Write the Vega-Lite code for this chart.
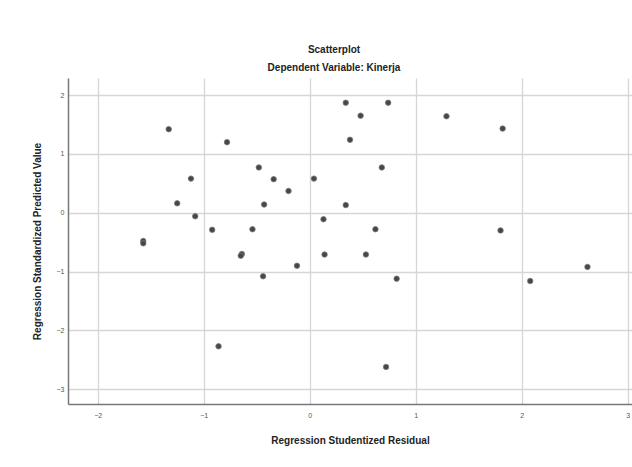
{
  "$schema": "https://vega.github.io/schema/vega-lite/v6.json",
  "autosize": {"type": "none"},
  "padding": {"left": 68, "top": 78, "right": 0, "bottom": 63},
  "width": 564,
  "height": 326,
  "background": "white",
  "title": {
    "text": "Scatterplot",
    "subtitle": "Dependent Variable: Kinerja",
    "anchor": "middle",
    "dx": -16,
    "fontSize": 10,
    "fontWeight": "bold",
    "font": "Liberation Sans",
    "color": "#222222",
    "subtitleFont": "Liberation Sans",
    "subtitleFontSize": 10,
    "subtitleFontWeight": "bold",
    "subtitleColor": "#222222",
    "subtitlePadding": 8,
    "offset": 5
  },
  "data": {
    "values": [
      {"residual": -1.33, "predicted": 1.42},
      {"residual": -0.78, "predicted": 1.20},
      {"residual": 0.34, "predicted": 1.87},
      {"residual": 0.74, "predicted": 1.87},
      {"residual": 0.48, "predicted": 1.65},
      {"residual": 1.29, "predicted": 1.64},
      {"residual": 1.82, "predicted": 1.43},
      {"residual": 0.38, "predicted": 1.24},
      {"residual": -0.48, "predicted": 0.77},
      {"residual": 0.68, "predicted": 0.77},
      {"residual": -1.12, "predicted": 0.58},
      {"residual": -0.34, "predicted": 0.57},
      {"residual": 0.04, "predicted": 0.58},
      {"residual": -0.20, "predicted": 0.37},
      {"residual": -1.25, "predicted": 0.16},
      {"residual": -0.43, "predicted": 0.14},
      {"residual": 0.34, "predicted": 0.13},
      {"residual": -1.08, "predicted": -0.06},
      {"residual": 0.13, "predicted": -0.11},
      {"residual": -0.92, "predicted": -0.29},
      {"residual": -0.54, "predicted": -0.28},
      {"residual": 0.62, "predicted": -0.28},
      {"residual": 1.80, "predicted": -0.30},
      {"residual": -1.57, "predicted": -0.48},
      {"residual": -1.57, "predicted": -0.52},
      {"residual": -0.64, "predicted": -0.70},
      {"residual": -0.65, "predicted": -0.73},
      {"residual": 0.14, "predicted": -0.71},
      {"residual": 0.53, "predicted": -0.71},
      {"residual": -0.12, "predicted": -0.90},
      {"residual": 2.62, "predicted": -0.92},
      {"residual": -0.44, "predicted": -1.08},
      {"residual": 0.82, "predicted": -1.12},
      {"residual": 2.08, "predicted": -1.16},
      {"residual": -0.86, "predicted": -2.27},
      {"residual": 0.72, "predicted": -2.62}
    ]
  },
  "mark": {"type": "point", "filled": true, "shape": "circle", "size": 30, "color": "#474747", "opacity": 1, "stroke": "#7a7a7a", "strokeWidth": 0.8},
  "encoding": {
    "x": {
      "field": "residual",
      "type": "quantitative",
      "scale": {"domain": [-2.28, 3.04], "nice": false, "zero": false},
      "axis": {
        "title": "Regression Studentized Residual",
        "values": [-2, -1, 0, 1, 2, 3],
        "format": "d",
        "ticks": false,
        "labelPadding": 7,
        "labelFontSize": 7,
        "labelColor": "#555555",
        "labelFont": "Liberation Sans",
        "titleFont": "Liberation Sans",
        "titleFontSize": 10,
        "titleFontWeight": "bold",
        "titleColor": "#222222",
        "titlePadding": 17,
        "domainColor": "#777777",
        "domainWidth": 1.5,
        "gridColor": "#d6d6d6",
        "gridWidth": 1.3
      }
    },
    "y": {
      "field": "predicted",
      "type": "quantitative",
      "scale": {"domain": [-3.25, 2.29], "nice": false, "zero": false},
      "axis": {
        "title": "Regression Standardized Predicted Value",
        "values": [-3, -2, -1, 0, 1, 2],
        "format": "d",
        "ticks": false,
        "labelPadding": 4,
        "labelFontSize": 7,
        "labelColor": "#555555",
        "labelFont": "Liberation Sans",
        "titleFont": "Liberation Sans",
        "titleFontSize": 10,
        "titleFontWeight": "bold",
        "titleColor": "#222222",
        "titlePadding": 14,
        "domainColor": "#777777",
        "domainWidth": 1.5,
        "gridColor": "#d6d6d6",
        "gridWidth": 1.3
      }
    }
  },
  "config": {"view": {"stroke": null}}
}
